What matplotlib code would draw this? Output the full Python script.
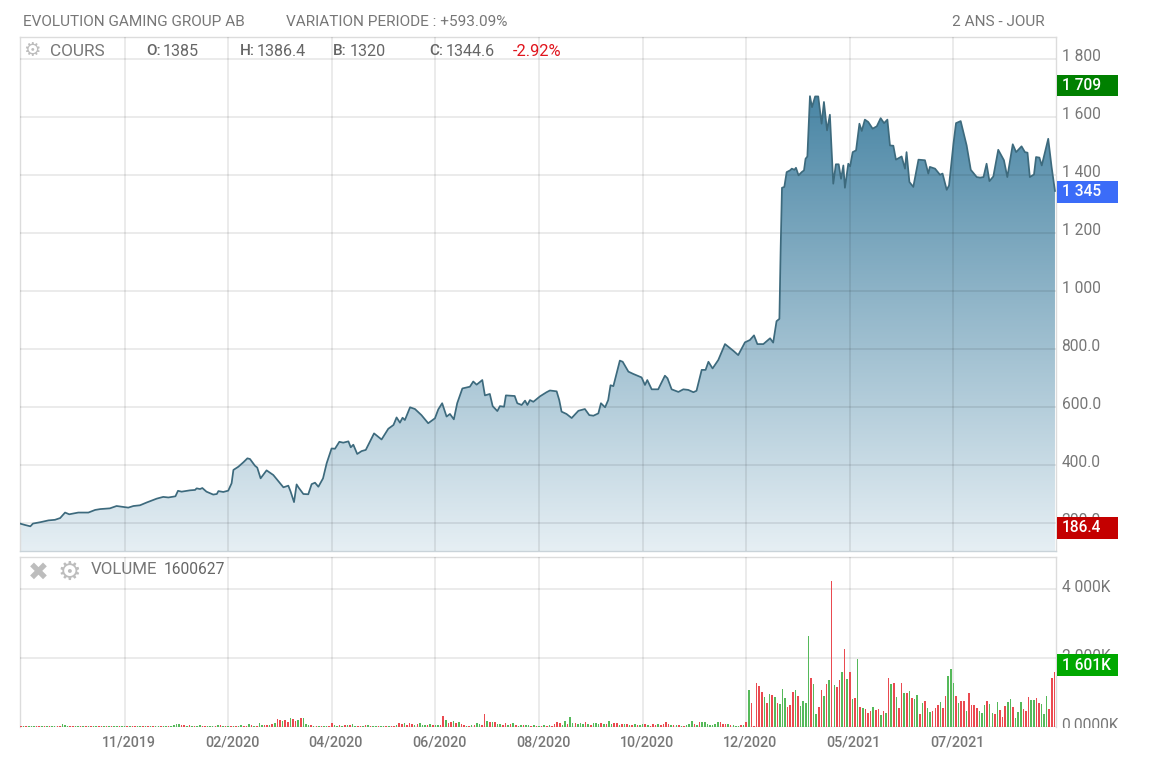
"""Evolution Gaming Group AB: two-year price area chart with volume panel."""

import numpy as np
import matplotlib

matplotlib.use("Agg")
import matplotlib.pyplot as plt
from matplotlib.colors import LinearSegmentedColormap
from matplotlib.patches import Rectangle
from matplotlib.transforms import Bbox, ScaledTranslation

plt.rcParams["font.family"] = ["Roboto", "DejaVu Sans"]

# ---------------------------------------------------------------------------
# Data, x is the trading session number
# ---------------------------------------------------------------------------
PRICE_SESSION = [
    0, 2, 4, 5, 8, 11, 13.5, 15.5, 17.4, 19, 22.5, 26.4, 29, 31, 34.7, 37.3, 41.8, 43.8, 46.3, 49,
    52.8, 55.3, 57.3, 60, 61, 62.4, 65.6, 67.6, 68.2, 69.5, 70.4, 72, 74.6, 76, 76.6, 78.5, 80.4,
    81.7, 82.4, 84.3, 86.2, 87.8, 88.8, 90.7, 91.6, 92.9, 95.2, 97.8, 100.4, 101.7, 103.6, 104.5,
    105.8, 106.8, 107.5, 109.4, 111.3, 112.6, 113.9, 115.2, 117, 118.4, 120.3, 121.6, 123.3, 124.8,
    126.8, 127.7, 128.7, 130.2, 131.9, 133.5, 136.7, 139.6, 142.2, 144.2, 145.4, 146.7, 147.7,
    148.6, 150.6, 152.5, 155, 157.6, 160.2, 161.5, 163, 164.7, 166, 167.5, 168.8, 170.8, 173.7,
    175, 176.3, 178.5, 179.5, 181.4, 182.5, 184.3, 185.3, 186.9, 187.6, 191, 192, 193.7, 195,
    195.9, 196.9, 198.2, 200.8, 203.3, 204.6, 207.2, 208.2, 209.1, 211, 213, 215.6, 218.1, 219.8,
    221.4, 223.3, 224.3, 225.9, 227.1, 228, 229.1, 231.6, 232.7, 234.9, 236.8, 240, 241.3, 242.2,
    243.9, 246.4, 249, 250, 251.6, 254.2, 256.1, 258, 260, 261.2, 263.2, 264.7, 265.8, 267.4,
    269.6, 272.2, 275.4, 277.3, 279.9, 281.8, 283.4, 284.7, 287, 289.6, 290.8, 292.1, 293.2, 293.7,
    294.2, 295.1, 296, 297.3, 298, 299, 299.6, 300.6, 301.8, 302.7, 303.3, 304, 305, 305.8, 307,
    308.2, 309.5, 310.4, 311.6, 312.7, 314, 315, 316.1, 317, 317.9, 318.5, 319.8, 320.5, 321.5,
    322.8, 324.1, 325, 326.2, 327.5, 329.2, 330.8, 332.3, 333.6, 334.9, 335.9, 337.2, 338.2, 340.4,
    341.7, 342.3, 343.4, 344.9, 346.9, 349.4, 350.7, 351.3, 353.3, 355.2, 356.2, 357.8, 358.7,
    360.4, 361.4, 363.2, 365.5, 367.1, 369.4, 370.7, 372, 373.2, 374.3, 375.8, 377.7, 379.9, 381.2,
    383.3, 384.6, 386.7, 388, 389, 389.9, 391.5, 392.3, 393.6, 394.5, 397, 398.3, 399.6,
]
PRICE_VALUE = [
    198, 193, 188.5, 198, 203, 209, 211, 217, 236, 230, 236, 236, 245, 248, 250.5, 258.6, 253, 258.6, 261, 271,
    284, 290, 288, 292, 311, 308, 312.6, 314, 319.5, 317, 320.6, 308, 298, 300, 310, 307, 311.5,
    337, 383, 394, 409, 423, 420.6, 397.6, 391, 354, 381.5, 365.5, 337, 323, 328.7, 308,
    272, 333, 323, 300, 299, 334, 339, 325, 354, 406, 457, 456, 480, 477,
    481.5, 461, 470, 438, 448, 452, 509, 488, 525, 538, 564, 546, 563,
    555, 599, 593, 572, 544, 561, 592, 613, 567, 576, 557.5, 613, 664, 670,
    688, 677, 693, 640, 645, 603, 586, 603, 601, 640, 638, 613, 607, 622,
    607, 624, 618, 637, 651, 657, 654, 624, 584, 576, 562, 587, 593, 572,
    570, 578, 613, 599, 624, 675, 672, 760, 756, 722, 714, 702, 676, 693,
    661, 661, 708, 699, 661, 652, 661, 659, 651, 656, 728, 728, 756, 733,
    762, 817, 794, 779, 823, 831, 847, 817, 817, 837, 822, 896, 904, 1152,
    1356, 1359, 1410, 1416, 1422, 1418, 1425, 1399, 1410, 1416, 1456, 1464, 1672, 1634, 1671,
    1671, 1577, 1652, 1554, 1608, 1370, 1437, 1437, 1387, 1433, 1356, 1439, 1430, 1479,
    1485, 1577, 1552, 1591, 1583, 1560, 1568, 1596, 1579, 1591, 1502, 1501, 1453, 1464,
    1422, 1479, 1376, 1359, 1453, 1451, 1405, 1428, 1422, 1401, 1405, 1349, 1364,
    1508, 1579, 1586, 1502, 1418, 1393, 1391, 1393, 1439, 1379, 1395, 1487, 1451, 1393,
    1506, 1479, 1499, 1479, 1477, 1393, 1402, 1462, 1460, 1433, 1525, 1428, 1345,
]

# Volume in thousands of shares, one value per session
VOLUME_K = [
    25, 20, 30, 22, 28, 18, 25, 30, 35, 22, 28, 20, 24, 30, 28, 40, 95, 60, 35, 25,
    22, 18, 25, 20, 30, 40, 25, 18, 20, 22, 18, 25, 28, 20, 18, 15, 22, 25, 18, 20,
    22, 25, 18, 30, 28, 35, 25, 30, 22, 35, 28, 40, 25, 30, 35, 28, 40, 30, 35, 55,
    95, 80, 45, 60, 35, 50, 28, 40, 30, 45, 35, 30, 28, 35, 40, 30, 45, 50, 30, 25,
    40, 30, 35, 25, 30, 45, 40, 30, 75, 45, 40, 35, 115, 70, 60, 55, 50, 85, 130, 240,
    190, 170, 195, 150, 260, 220, 165, 195, 250, 270, 90, 60, 45, 35, 30, 25, 30, 25, 30, 35,
    120, 55, 35, 45, 30, 45, 55, 65, 75, 40, 35, 30, 25, 45, 50, 30, 25, 35, 25, 20,
    30, 25, 35, 40, 30, 50, 130, 90, 110, 65, 120, 75, 70, 95, 130, 60, 50, 70, 75, 45,
    55, 50, 45, 320, 190, 120, 140, 165, 130, 150, 85, 60, 40, 35, 45, 60, 115, 95, 50, 370,
    160, 150, 150, 140, 90, 75, 70, 110, 60, 95, 115, 60, 35, 45, 60, 50, 55, 40, 45, 30,
    35, 30, 70, 40, 45, 40, 85, 135, 120, 60, 165, 100, 290, 120, 130, 85, 110, 90, 150, 85,
    60, 110, 115, 75, 130, 100, 80, 170, 100, 130, 125, 70, 75, 90, 80, 60, 70, 95, 60, 45,
    75, 90, 70, 40, 75, 60, 90, 60, 85, 150, 85, 60, 70, 50, 60, 40, 35, 70, 90, 165,
    75, 60, 145, 140, 150, 80, 50, 70, 90, 150, 135, 90, 80, 100, 65, 45, 35, 40, 50, 60,
    145,
    1067, 708, 40, 1290, 1190, 1028, 883, 708, 970, 931,
    873, 689, 679, 1096, 854, 592, 650, 1018, 1067, 902,
    611, 747, 708, 2648, 1416, 1241, 369, 592, 1077, 902,
    1261, 1377, 4249, 1222, 1164, 1358, 1610, 2260, 1406, 1610,
    805, 854, 1969, 582, 563, 514, 417, 466, 582, 500,
    514, 340, 456, 417, 1436, 1261, 1290, 883, 563, 1290,
    1000, 1000, 1048, 854, 825, 922, 388, 698, 757, 563,
    446, 456, 563, 630, 728, 563, 902, 1484, 1698, 1271,
    902, 708, 757, 757, 456, 1000, 650, 630, 563, 456,
    417, 630, 747, 679, 417, 369, 718, 504, 291, 611,
    718, 805, 582, 272, 446, 727, 533, 466, 873, 795,
    795, 844, 689, 679, 369, 902, 514, 1416, 1601,
]
# r = down session, g = up session
VOLUME_SIDE = (
    "rgrgggrrgrgrggrrgggr" "rggrgrgrggrrgrgrggrg" "grgrrggrgrgrggrggrgg" "ggrrgrgrggrrgggrgrgr"
    "grgrggrrgrgrggrrgrgr" "rgrrgrrgrgggrgrgrggr" "rggrgrgrggrrgrgrggrg" "grgrrgrrgrrrgrgggrgr"
    "ggrrgrrgrgrrgrgrggrr" "grgrggrrgrgrggrggrgr" "grgrgrrrrggrggrgggrg" "rgggrgrggrrgrgrgrgrg"
    "grgrrrgrrrrgrgrgrggg" "rgrgggggggrrrgrgggrg" "r"
    "grrrrrgrgr" "grgggrrrgr" "ggggrggrrg" "rgrgrrgrgr" "grgrgrrrgr" "rgrgrgrgrr"
    "grgrggrgrg" "grrrgrrggg" "rgrrgrrrrg" "ggrggrgrrr" "ggrgggrrrg" "grrgggrrr"
)

PRICE_TICKS = [200, 400, 600, 800, 1000, 1200, 1400, 1600, 1800]
PRICE_TICK_LABELS = ["200.0", "400.0", "600.0", "800.0", "1 000", "1 200", "1 400", "1 600", "1 800"]
VOLUME_TICKS = [0, 2000, 4000]
VOLUME_TICK_LABELS = ["0.0000K", "2 000K", "4 000K"]
DATE_TICKS = [40.4, 80.4, 120.4, 160.4, 200.4, 240.4, 280.4, 320.4, 360.4]
DATE_TICK_LABELS = ["11/2019", "02/2020", "04/2020", "06/2020", "08/2020", "10/2020",
                    "12/2020", "05/2021", "07/2021"]

# ---------------------------------------------------------------------------
# Style
# ---------------------------------------------------------------------------
W, H = 1150, 766
GREY = "#777777"
DARK = "#666666"
BORDER = "#dcdcdc"
ICON = "#bdbdbd"
LINE = "#3d6a7d"
RED_BAR = "#ea4a50"
GREEN_BAR = "#55b95a"


def add_axes_px(fig, left, top, right, bottom):
    """Axes placed from pixel edges counted from the top left."""
    return fig.add_axes([left / W, 1 - bottom / H, (right - left) / W, (bottom - top) / H])


def text_px(fig, x, y, s, color=GREY, size=11.1, **kw):
    kw.setdefault("va", "center")
    return fig.text(x / W, 1 - y / H, s, color=color, fontsize=size, **kw)


def tag(fig, top, bottom, s, color):
    """Coloured value box on the right-hand scale."""
    fig.add_artist(Rectangle((1057 / W, 1 - bottom / H), 61 / W, (bottom - top) / H,
                             transform=fig.transFigure, color=color, lw=0, zorder=5))
    text_px(fig, 1062, (top + bottom) / 2, s, color="white", size=11.2, zorder=6,
            fontweight="medium")


def style_ax(ax, fig, lift):
    ax.grid(True, color="black", alpha=0.1, linewidth=1.1)
    ax.set_axisbelow(False)
    ax.yaxis.tick_right()
    ax.tick_params(axis="both", length=0)
    ax.tick_params(axis="y", labelsize=11.2, labelcolor=GREY, pad=4)
    for spine in ax.spines.values():
        spine.set_color(BORDER)
        spine.set_linewidth(1.0)
    shift = ScaledTranslation(0, lift / 100, fig.dpi_scale_trans)
    for label in ax.get_yticklabels():
        label.set_transform(label.get_transform() + shift)


fig = plt.figure(figsize=(W / 100, H / 100), dpi=100, facecolor="white")

# ---------------------------------------------------------------------------
# Price panel
# ---------------------------------------------------------------------------
ax = add_axes_px(fig, 20, 37, 1056, 551)
price_floor, price_top = 103.4, 1876
gradient = np.linspace(1, 0, 256).reshape(-1, 1)
cmap = LinearSegmentedColormap.from_list("area", ["#e6eff4", "#4a86a5"])
area = ax.fill_between(PRICE_SESSION, PRICE_VALUE, price_floor, color="none", lw=0)
image = ax.imshow(gradient, cmap=cmap, aspect="auto", zorder=1, vmin=0, vmax=1,
                  extent=[0, 400, price_floor, max(PRICE_VALUE)])
image.set_clip_path(area.get_paths()[0], transform=ax.transData)
ax.plot(PRICE_SESSION, PRICE_VALUE, color=LINE, linewidth=1.25, zorder=3)
ax.set_xlim(0, 400)
ax.set_ylim(price_floor, price_top)
ax.set_xticks(DATE_TICKS)
ax.set_xticklabels([])
ax.set_yticks(PRICE_TICKS)
ax.set_yticklabels(PRICE_TICK_LABELS)
style_ax(ax, fig, 4)
ax.spines["bottom"].set_color("#c9d3d9")

# ---------------------------------------------------------------------------
# Volume panel
# ---------------------------------------------------------------------------
vax = add_axes_px(fig, 20, 557, 1056, 727)
sessions = np.arange(len(VOLUME_K)) + 0.4
bar_colors = [RED_BAR if side == "r" else GREEN_BAR for side in VOLUME_SIDE]
vax.bar(sessions, VOLUME_K, width=0.6, color=bar_colors, linewidth=0, zorder=3)
vax.set_xlim(0, 400)
vax.set_ylim(0, 4942)
vax.set_xticks(DATE_TICKS)
vax.set_xticklabels(DATE_TICK_LABELS)
vax.set_yticks(VOLUME_TICKS)
vax.set_yticklabels(VOLUME_TICK_LABELS)
style_ax(vax, fig, 3)
vax.spines["bottom"].set_visible(False)
vax.tick_params(axis="x", labelsize=10.3, labelcolor=GREY, pad=6)
nudge = ScaledTranslation(4 / 100, 0, fig.dpi_scale_trans)
for label in vax.get_xticklabels():
    label.set_transform(label.get_transform() + nudge)
    label.set_fontweight("medium")
# The zero label is cut off along the bottom of the panel in the original.
vax.get_yticklabels()[0].set_clip_box(Bbox([[1050, H - 728], [1130, H - 700]]))
vax.get_yticklabels()[0].set_clip_on(True)

# ---------------------------------------------------------------------------
# Header texts and value tags
# ---------------------------------------------------------------------------
text_px(fig, 23, 22, "EVOLUTION GAMING GROUP AB")
text_px(fig, 286, 22, "VARIATION PERIODE : +593.09%")
text_px(fig, 1045, 22, "2 ANS - JOUR", ha="right")
text_px(fig, 32, 50, "⚙", color=ICON, size=14, ha="center", family="DejaVu Sans")
text_px(fig, 50, 51, "COURS", size=12.4)
for x, head, value in ((146, "O", "1385"), (240, "H", "1386.4"), (333, "B", "1320"), (429, "C", "1344.6")):
    text_px(fig, x, 51, f"{head}:", color=DARK, size=11, fontweight="medium")
    text_px(fig, x + 17, 51, value, color=DARK, size=11.6)
text_px(fig, 513, 51, "-2.92%", color="#e0141c", size=11.8)
text_px(fig, 38, 573, "✖", color=ICON, size=18, ha="center", family="DejaVu Sans")
text_px(fig, 69, 573, "⚙", color=ICON, size=19, ha="center", family="DejaVu Sans")
text_px(fig, 91, 570, "VOLUME", size=12.2)
text_px(fig, 164, 570, "1600627", color=DARK, size=11.2)

tag(fig, 75, 96, "1 709", "#008000")
tag(fig, 181, 203, "1 345", "#3b6cf8")
tag(fig, 517, 539, "186.4", "#c40000")
tag(fig, 654, 676, "1 601K", "#00a800")

fig.savefig("out.png", dpi=100)
